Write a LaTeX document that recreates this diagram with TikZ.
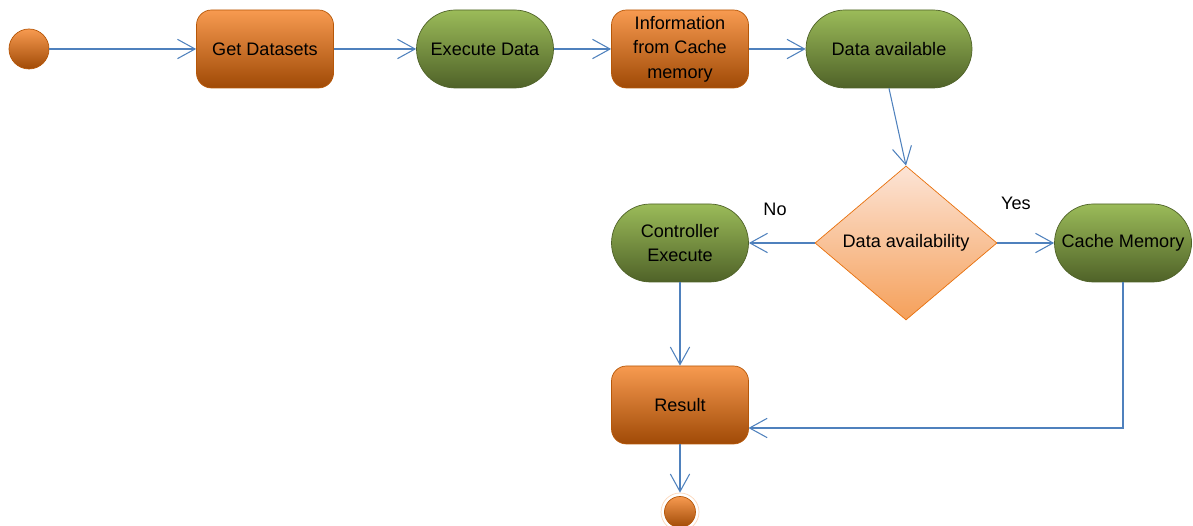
\documentclass[tikz,border=0pt]{standalone}
\usepackage{fontspec}
\setmainfont{Liberation Sans}
\usetikzlibrary{shapes.geometric, arrows.meta}

\definecolor{flow}{HTML}{4F81BD}
\definecolor{orgtop}{HTML}{F79A50}
\definecolor{orgmid}{HTML}{E8700C}
\definecolor{orgbot}{HTML}{A04A06}
\definecolor{orgline}{HTML}{B65708}
\definecolor{grntop}{HTML}{9BBB59}
\definecolor{grnmid}{HTML}{76923C}
\definecolor{grnbot}{HTML}{4F6228}
\definecolor{grnline}{HTML}{4F6228}
\definecolor{dectop}{HTML}{FCE4D6}
\definecolor{decbot}{HTML}{F5A05A}

\begin{document}
\begin{tikzpicture}[
        font=\fontsize{10.3}{14}\selectfont,
        orangebox/.style={draw=orgline, top color=orgtop, middle color=orgmid, bottom color=orgbot,
          rounded corners=0.3cm, minimum width=2.74cm, minimum height=1.56cm, align=center},
        greenbox/.style={draw=grnline, top color=grntop, middle color=grnmid, bottom color=grnbot,
          rounded corners=0.78cm, minimum width=2.74cm, minimum height=1.56cm, align=center},
        flowline/.style={draw=flow, line width=0.6pt, -{Straight Barb[length=10pt, width=11pt]}}]
        \useasboundingbox (0,0) rectangle (23.86,-10.52);

        \node[circle, draw=orgline, top color=orgtop, middle color=orgmid, bottom color=orgbot,
          minimum size=0.8cm, inner sep=0] (S) at (0.58,-0.98) {};

        \node[orangebox] (T1) at (5.3,-0.98) {Get Datasets};
        \node[greenbox] (T2) at (9.7,-0.98) {Execute Data};
        \node[orangebox] (T3) at (13.6,-0.98) {Information\\from Cache\\memory};
        \node[greenbox, minimum width=3.32cm] (T4) at (17.78,-0.98) {Data available};

        \node[diamond, draw=orgmid, top color=dectop, bottom color=decbot, inner sep=0,
          minimum width=3.64cm, minimum height=3.08cm] (D) at (18.12,-4.86) {Data availability};

        \node[greenbox] (CE) at (13.6,-4.86) {Controller\\Execute};
        \node[greenbox] (CM) at (22.46,-4.86) {Cache Memory};
        \node[orangebox] (R) at (13.6,-8.1) {Result};

        \node[circle, draw=orgtop!40, line width=0.4pt, minimum size=0.76cm, inner sep=0] (E) at (13.6,-10.24) {};
        \node[circle, draw=orgline, top color=orgtop, middle color=orgmid, bottom color=orgbot,
          minimum size=0.62cm, inner sep=0] at (E) {};

        \node (no) at (15.5,-4.18) {No};
        \node (yes) at (20.32,-4.06) {Yes};

        \coordinate (Rin) at (14.97,-8.56);

        \draw[flowline] (S) -- (T1);
        \foreach \a/\b in {1/2,2/3,3/4}
          \draw[flowline] (T\a) -- (T\b);

        \draw[flowline] (T4.south) -- (D.north);
        \draw[flowline] (D.west) -- (CE.east);
        \draw[flowline] (D.east) -- (CM.west);
        \draw[flowline] (CE) -- (R);
        \draw[flowline] (CM.south) |- (Rin);
        \draw[flowline] (R) -- (E.north);
      \end{tikzpicture}
\end{document}
